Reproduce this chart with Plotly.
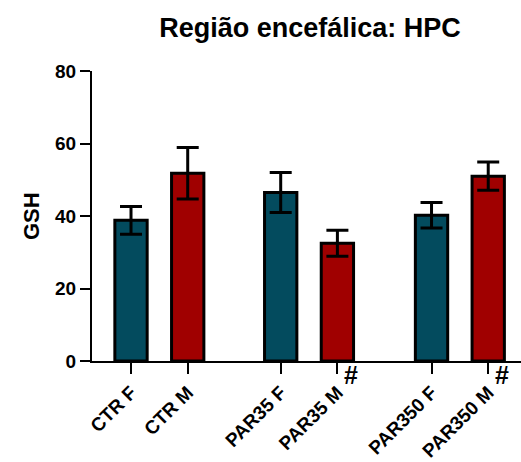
import plotly.graph_objects as go

# Group labels and bar positions (small gap inside each pair, wider gap between pairs)
groups = ["CTR F", "CTR M", "PAR35 F", "PAR35 M", "PAR350 F", "PAR350 M"]
positions = [0, 1, 2.64, 3.64, 5.3, 6.3]

# GSH means and error (SEM)
gsh_mean = [38.8, 51.8, 46.5, 32.5, 40.2, 51.0]
gsh_err = [3.8, 7.1, 5.5, 3.6, 3.5, 3.9]

# Significance markers
marked = ["PAR35 M", "PAR350 M"]

TEAL = "#034b5e"
RED = "#a00000"
bar_colors = [TEAL if g.endswith("F") else RED for g in groups]

FONT = "Arial, Liberation Sans, sans-serif"

fig = go.Figure()
fig.add_trace(go.Bar(
    x=positions,
    y=gsh_mean,
    width=0.57,
    marker=dict(color=bar_colors, line=dict(color="black", width=3)),
    error_y=dict(type="data", array=gsh_err, visible=True,
                 color="black", thickness=3, width=11),
    showlegend=False,
))

for g in marked:
    fig.add_annotation(
        x=positions[groups.index(g)], y=0, xref="x", yref="y",
        text="#", showarrow=False, xshift=14, yshift=-14,
        xanchor="center", yanchor="middle",
        font=dict(family=FONT, size=25, color="black", weight="bold"),
    )

fig.add_annotation(
    x=-0.142, y=0.5, xref="paper", yref="paper",
    text="GSH", textangle=-90, showarrow=False,
    xanchor="center", yanchor="middle",
    font=dict(family=FONT, size=22, color="black", weight="bold"),
)

fig.update_layout(
    width=521, height=462,
    margin=dict(l=92, r=0, t=71, b=101),
    paper_bgcolor="white", plot_bgcolor="white",
    title=dict(
        text="Região encefálica: HPC",
        x=0.595, xref="container", xanchor="center",
        y=1 - 28 / 462, yref="container", yanchor="middle",
        font=dict(family=FONT, size=27, color="black", weight="bold"),
    ),
    xaxis=dict(
        range=[-0.688, 6.878],
        tickmode="array", tickvals=positions, ticktext=groups,
        tickangle=-45, automargin=False,
        ticks="outside", ticklen=11, tickwidth=2, tickcolor="black",
        showline=True, linecolor="black", linewidth=2,
        showgrid=False, zeroline=False,
        tickfont=dict(family=FONT, size=19, color="black", weight="bold"),
    ),
    yaxis=dict(
        range=[0, 80], tickvals=[0, 20, 40, 60, 80], automargin=False,
        ticks="outside", ticklen=10, tickwidth=2, tickcolor="black",
        showline=True, linecolor="black", linewidth=2,
        showgrid=False, zeroline=False,
        tickfont=dict(family=FONT, size=19, color="black", weight="bold"),
    ),
)

fig.write_html("out.html")
